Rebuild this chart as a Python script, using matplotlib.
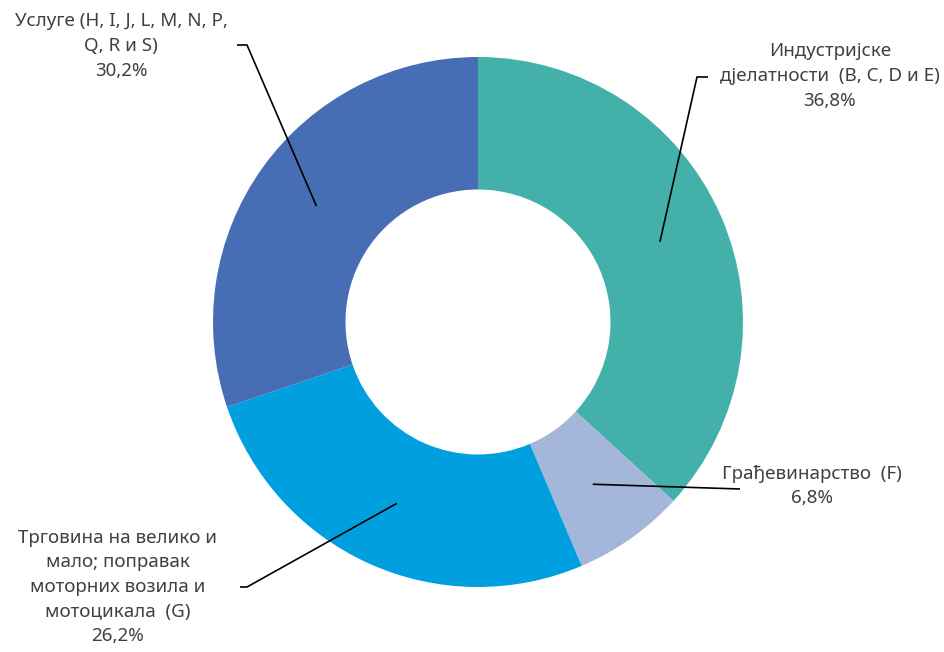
import numpy as np
import matplotlib
matplotlib.use('Agg')
import matplotlib.pyplot as plt

plt.rcParams['font.family'] = ['Noto Sans', 'DejaVu Sans']

# Data
labels = ['Индустријске\nдјелатности  (B, C, D и E)',
          'Гра\u0452евинарство  (F)',
          'Трговина на велико и\nмало; поправак\nмоторних возила и\nмотоцикала  (G)',
          'Услуге (H, I, J, L, M, N, P,\nQ, R и S)']
values = [36.8, 6.8, 26.2, 30.2]
colors = ['#43B0AA', '#A4B6D9', '#00A0E0', '#476EB5']

W, H = 944, 652
CX, CY, R = 478, H - 322, 265

# label text centres and elbow points (pixel coords, y from top)
text_pos = [(830, 76), (812, 486), (118, 587), (121, 46)]
elbows = [[(708, 77), (697, 77)],
          [(740, 489)],
          [(240, 587), (247, 587)],
          [(237, 45), (247, 45)]]

def main():
    fig = plt.figure(figsize=(W / 100, H / 100), dpi=100)
    ax = fig.add_axes([0, 0, 1, 1])
    wedges, _ = ax.pie(values, colors=colors, startangle=90, counterclock=False,
                       center=(CX, CY), radius=R,
                       wedgeprops=dict(width=R * 0.5, linewidth=0))
    ax.set_xlim(0, W)
    ax.set_ylim(0, H)
    ax.set_aspect('equal')
    ax.axis('off')

    for w, lab, val, tp, el in zip(wedges, labels, values, text_pos, elbows):
        ang = np.deg2rad((w.theta1 + w.theta2) / 2)
        ax_x = CX + 0.75 * R * np.cos(ang)
        ax_y = CY + 0.75 * R * np.sin(ang)
        xs = [p[0] for p in el] + [ax_x]
        ys = [H - p[1] for p in el] + [ax_y]
        ax.plot(xs, ys, color='black', lw=1.2, solid_capstyle='butt')
        txt = lab + '\n' + ('%.1f%%' % val).replace('.', ',')
        ax.text(tp[0], H - tp[1], txt, ha='center', va='center',
                fontsize=13.5, color='#404040', linespacing=1.48)

    fig.savefig('out.png', dpi=100)

if __name__ == '__main__':
    main()
